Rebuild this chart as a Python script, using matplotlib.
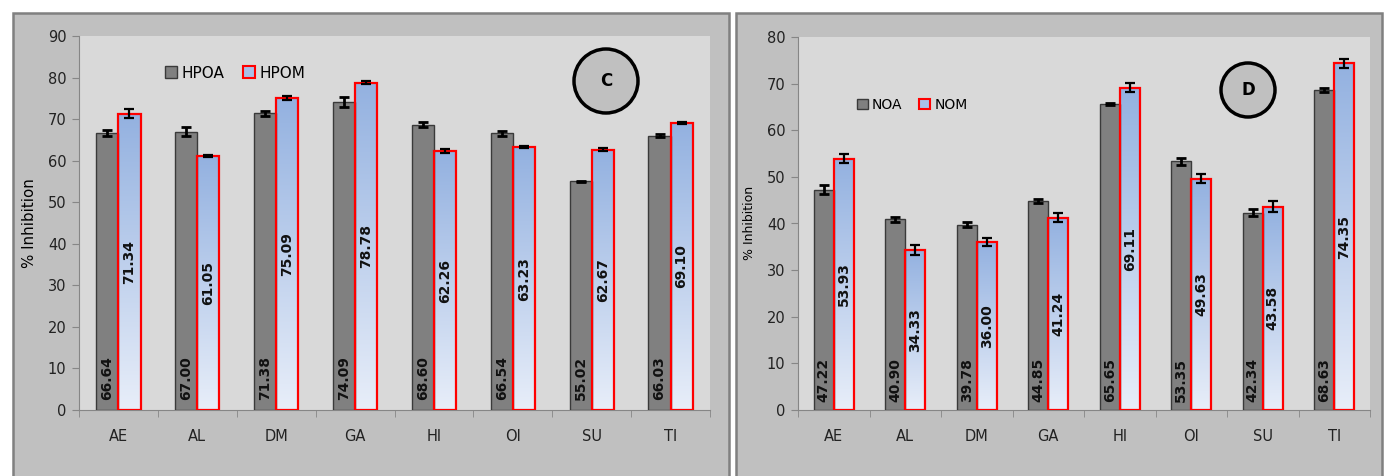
import numpy as np
import matplotlib
matplotlib.use("Agg")
import matplotlib.pyplot as plt
from matplotlib.patches import Rectangle, Ellipse, Patch
from matplotlib.colors import LinearSegmentedColormap

# data
cats = ["AE", "AL", "DM", "GA", "HI", "OI", "SU", "TI"]
hpoa = [66.64, 67.00, 71.38, 74.09, 68.60, 66.54, 55.02, 66.03]
hpoa_err = [0.8, 1.0, 0.6, 1.2, 0.6, 0.6, 0.2, 0.3]
hpom = [71.34, 61.05, 75.09, 78.78, 62.26, 63.23, 62.67, 69.10]
hpom_err = [1.0, 0.2, 0.4, 0.3, 0.5, 0.3, 0.3, 0.2]
noa = [47.22, 40.90, 39.78, 44.85, 65.65, 53.35, 42.34, 68.63]
noa_err = [1.0, 0.5, 0.6, 0.5, 0.3, 0.7, 0.8, 0.5]
nom = [53.93, 34.33, 36.00, 41.24, 69.11, 49.63, 43.58, 74.35]
nom_err = [1.0, 1.0, 0.9, 1.0, 1.0, 1.0, 1.2, 1.0]

W, H = 1389, 476
fig = plt.figure(figsize=(W / 100, H / 100), dpi=100)
fig.patch.set_facecolor("white")

blue_cmap = LinearSegmentedColormap.from_list("bl", ["#e8eef9", "#93b1e0"])
grad = np.linspace(0, 1, 256).reshape(-1, 1)


def fx(px):
    return px / W


def fy(py):
    return 1 - py / H


def panel(frame, box, a, a_err, m, m_err, names, ymax, fs, base_off, letter, circ, leg_pos):
    # outer chart frame (runs off the bottom edge)
    fig.add_artist(Rectangle((fx(frame[0]), fy(13) - 480 / H), fx(frame[1] - frame[0]), 480 / H,
                             transform=fig.transFigure, facecolor="#c0c0c0",
                             edgecolor="#808080", lw=1.8, zorder=0))
    x0, x1, ytop, ybot = box
    ax = fig.add_axes([fx(x0), fy(ybot), fx(x1 - x0), (ybot - ytop) / H])
    ax.set_facecolor("#d9d9d9")
    x = np.arange(len(cats))
    w = 0.28
    ax.bar(x - w / 2, a, w, color="#808080", edgecolor="#3a3a3a", lw=1.0, zorder=3)
    ax.errorbar(x - w / 2, a, yerr=a_err, fmt="none", ecolor="black", elinewidth=2,
                capsize=3.5, capthick=2, zorder=5)
    for xi, v in zip(x, m):
        ax.imshow(grad, extent=[xi, xi + w, 0, v], origin="lower", cmap=blue_cmap,
                  aspect="auto", zorder=2)
    ax.bar(x + w / 2, m, w, facecolor="none", edgecolor="#ff0000", lw=1.6, zorder=4)
    ax.errorbar(x + w / 2, m, yerr=m_err, fmt="none", ecolor="black", elinewidth=1.6,
                capsize=3.5, capthick=1.6, zorder=5)
    for xi, v in zip(x, a):
        ax.annotate(f"{v:.2f}", (xi - w / 2, 0), xytext=(0, base_off), textcoords="offset points",
                    rotation=90, ha="center", va="bottom", fontsize=fs, fontweight="bold",
                    color="#111111", zorder=6)
    for xi, v in zip(x, m):
        ax.text(xi + w / 2, v / 2, f"{v:.2f}", rotation=90, ha="center", va="center",
                fontsize=fs, fontweight="bold", color="#111111", zorder=6)
    ax.set_xlim(-0.5, len(cats) - 0.5)
    ax.set_ylim(0, ymax)
    ax.set_yticks(np.arange(0, ymax + 1, 10))
    ax.set_xticks(x)
    ax.set_xticklabels(cats)
    ax.set_xticks(np.arange(-0.5, len(cats)), minor=True)
    ax.tick_params(axis="x", which="major", length=0, pad=14, labelsize=10.5, colors="#222222")
    ax.tick_params(axis="x", which="minor", length=5, color="#868686", direction="out")
    ax.tick_params(axis="y", length=5, color="#868686", pad=4, labelsize=10.5, labelcolor="#222222")
    for s in ["top", "right"]:
        ax.spines[s].set_visible(False)
    for s in ["left", "bottom"]:
        ax.spines[s].set_color("#868686")
    handles = [Patch(facecolor="#808080", edgecolor="#3a3a3a", label=names[0]),
               Patch(facecolor="#a9c0e8", edgecolor="#ff0000", lw=1.5, label=names[1])]
    fig.legend(handles=handles, loc="center left", bbox_to_anchor=(fx(leg_pos[0]), fy(leg_pos[1])),
               ncol=2, frameon=False, fontsize=leg_pos[2], handlelength=0.8, handleheight=0.8,
               handletextpad=0.3, columnspacing=1.2)
    cx, cy, r = circ
    fig.add_artist(Ellipse((fx(cx), fy(cy)), 2 * r / W, 2 * r / H, transform=fig.transFigure,
                           facecolor="#c0c0c0", edgecolor="black", lw=2.5, zorder=5))
    fig.text(fx(cx), fy(cy), letter, ha="center", va="center", fontsize=12,
             fontweight="bold", zorder=6)
    return ax


panel((13, 729), (79, 710, 36, 410), hpoa, hpoa_err, hpom, hpom_err, ["HPOA", "HPOM"],
      90, 10, 7, "C", (606, 81, 32), (151, 73, 11))
fig.text(fx(29), fy(223), "% Inhibition", rotation=90, ha="center", va="center", fontsize=10.8)

panel((736, 1382), (798, 1370, 37, 410), noa, noa_err, nom, nom_err, ["NOA", "NOM"],
      80, 10, 6, "D", (1248, 90, 27), (844, 105, 10))
fig.text(fx(750), fy(223), "% Inhibition", rotation=90, ha="center", va="center", fontsize=9)

fig.savefig("out.png", dpi=100)
